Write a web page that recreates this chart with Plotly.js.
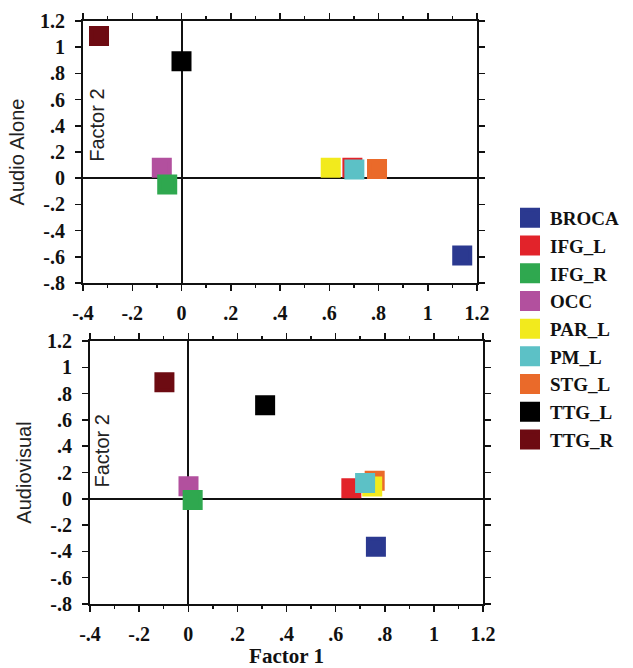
<!DOCTYPE html>
<html>
<head>
<meta charset="utf-8">
<script src="https://cdn.plot.ly/plotly-3.0.1.min.js"></script>
<style>html,body{margin:0;padding:0;background:#fff;}#chart{width:633px;height:668px;}</style>
</head>
<body>
<div id="chart"></div>
<script>
// Regions (legend order)
var regions = ['BROCA','IFG_L','IFG_R','OCC','PAR_L','PM_L','STG_L','TTG_L','TTG_R'];
var regionColors = ['#2b3990','#e2232a','#2fa84f','#b2509e','#f2ea1d','#5cc1c6','#ea6a2a','#000000','#6d0b12'];
// Audio Alone condition: Factor 1 / Factor 2 loadings
var audioFactor1 = [1.14, 0.694, -0.058, -0.08, 0.606, 0.702, 0.794, 0.0, -0.335];
var audioFactor2 = [-0.59, 0.08, -0.048, 0.08, 0.079, 0.067, 0.071, 0.893, 1.085];
// Audiovisual condition
var avFactor1 = [0.764, 0.664, 0.018, 0.001, 0.749, 0.72, 0.759, 0.313, -0.097];
var avFactor2 = [-0.364, 0.081, -0.01, 0.096, 0.093, 0.121, 0.138, 0.711, 0.886];
// drawing order (later = on top)
var drawOrder = ['BROCA','OCC','IFG_R','STG_L','PAR_L','IFG_L','PM_L','TTG_L','TTG_R'];
// tick labels
var xTickVals = [-0.4,-0.2,0,0.2,0.4,0.6,0.8,1,1.2];
var xTickText = ['-.4','-.2','0','.2','.4','.6','.8','1','1.2'];
var yTickVals = [-0.8,-0.6,-0.4,-0.2,0,0.2,0.4,0.6,0.8,1,1.2];
var yTickText = ['-.8','-.6','-.4','-.2','0','.2','.4','.6','.8','1','1.2'];

var traces = [];
drawOrder.forEach(function(name){
  var i = regions.indexOf(name);
  var mk = {symbol:'square', size:16, color:regionColors[i], line:{color:regionColors[i], width:4}};
  traces.push({type:'scatter', mode:'markers', name:name, x:[audioFactor1[i]], y:[audioFactor2[i]],
    xaxis:'x', yaxis:'y', marker:mk, legendrank:i+1, showlegend:true, cliponaxis:false, hoverinfo:'name+x+y'});
});
drawOrder.forEach(function(name){
  var i = regions.indexOf(name);
  var mk = {symbol:'square', size:16, color:regionColors[i], line:{color:regionColors[i], width:4}};
  traces.push({type:'scatter', mode:'markers', name:name, x:[avFactor1[i]], y:[avFactor2[i]],
    xaxis:'x2', yaxis:'y2', marker:mk, showlegend:false, cliponaxis:false, hoverinfo:'name+x+y'});
});

var serif = 'Liberation Serif, Times New Roman, serif';
var sans = 'Liberation Sans, Arial, sans-serif';
var tickFont = {family:serif, size:20, color:'#111', weight:'bold'};
function xAx(domain, anchor, title){
  var a = {domain:domain, anchor:anchor, range:[-0.4,1.2], tickmode:'array', tickvals:xTickVals, ticktext:xTickText,
    ticks:'outside', ticklen:6, tickwidth:1.5, tickcolor:'#111', showline:true, linewidth:2, linecolor:'#111',
    mirror:'ticks', showgrid:false, zeroline:true, zerolinecolor:'#111', zerolinewidth:2,
    tickfont:tickFont, ticklabelstandoff:5,
    minor:{dtick:0.1, tick0:0, ticks:'outside', ticklen:3, tickwidth:1.5, tickcolor:'#111', showgrid:false},
    fixedrange:true};
  if (title) a.title = {text:title, font:{family:serif, size:21, color:'#111', weight:'bold'}, standoff:4};
  return a;
}
function yAx(domain, anchor, title){
  return {domain:domain, anchor:anchor, range:[-0.8,1.2], tickmode:'array', tickvals:yTickVals, ticktext:yTickText,
    ticks:'outside', ticklen:6, tickwidth:1.5, tickcolor:'#111', showline:true, linewidth:2, linecolor:'#111',
    mirror:'ticks', showgrid:false, zeroline:true, zerolinecolor:'#111', zerolinewidth:2,
    tickfont:tickFont, ticklabelstandoff:6,
    title:{text:title, font:{family:sans, size:20, color:'#222'}, standoff:10},
    fixedrange:true};
}

var W = 633, H = 668;
var layout = {
  width:W, height:H, margin:{l:0,r:0,t:0,b:0}, paper_bgcolor:'#fff', plot_bgcolor:'#fff',
  xaxis: xAx([83/W, 477/W], 'y', null),
  yaxis: yAx([1-283/H, 1-21/H], 'x', 'Audio Alone'),
  xaxis2: xAx([90/W, 483/W], 'y2', 'Factor 1'),
  yaxis2: yAx([1-604/H, 1-341/H], 'x2', 'Audiovisual'),
  showlegend:true,
  legend:{x:510/W, xanchor:'left', y:1-199/H, yanchor:'top', bgcolor:'rgba(0,0,0,0)', borderwidth:0,
    font:{family:serif, size:19, color:'#111', weight:'bold'}, traceorder:'normal'},
  annotations:[
    {xref:'x', yref:'y', x:-0.343, y:0.40, text:'Factor 2', textangle:-90, showarrow:false,
     font:{family:sans, size:20, color:'#222'}},
    {xref:'x2', yref:'y2', x:-0.351, y:0.36, text:'Factor 2', textangle:-90, showarrow:false,
     font:{family:sans, size:20, color:'#222'}}
  ]
};
Plotly.newPlot('chart', traces, layout, {displayModeBar:false, staticPlot:true});
</script>
</body>
</html>
